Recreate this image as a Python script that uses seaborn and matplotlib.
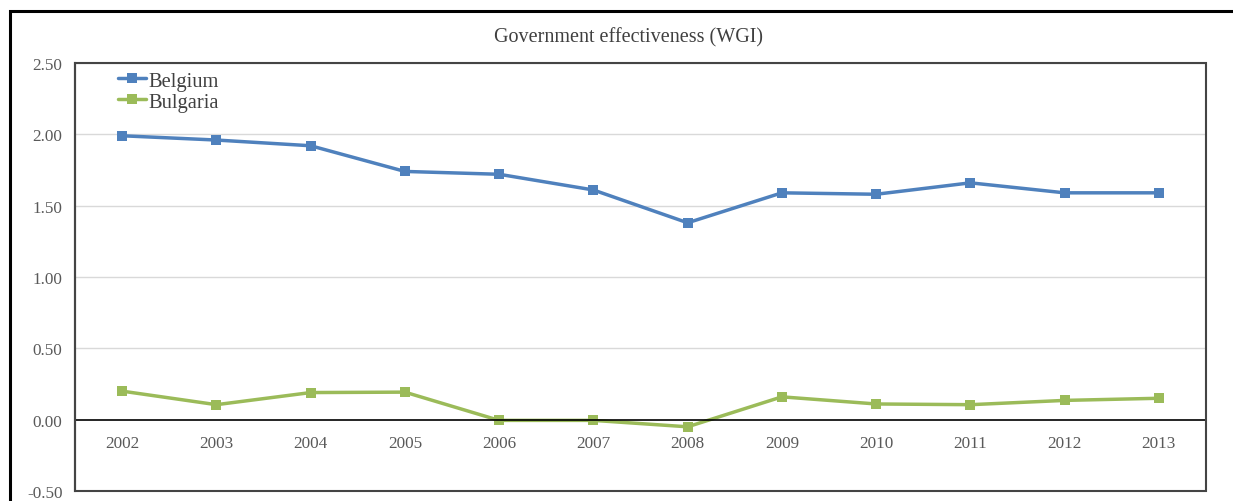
import matplotlib
matplotlib.use("Agg")
import matplotlib.pyplot as plt
from matplotlib.patches import Rectangle
import seaborn as sns
import pandas as pd

years = [2002, 2003, 2004, 2005, 2006, 2007, 2008, 2009, 2010, 2011, 2012, 2013]
belgium = [1.99, 1.96, 1.92, 1.74, 1.72, 1.61, 1.38, 1.59, 1.58, 1.66, 1.59, 1.59]
bulgaria = [0.20, 0.105, 0.19, 0.193, -0.005, -0.005, -0.05, 0.16, 0.11, 0.105, 0.135, 0.15]
yticks = [-0.5, 0.0, 0.5, 1.0, 1.5, 2.0, 2.5]
title = "Government effectiveness (WGI)"

df = pd.DataFrame({
    "year": years * 2,
    "value": belgium + bulgaria,
    "country": ["Belgium"] * len(years) + ["Bulgaria"] * len(years),
})

sns.set_theme(style="white")
plt.rcParams['font.family'] = ['Liberation Serif', 'DejaVu Serif']

fig = plt.figure(figsize=(12.33, 5.02), dpi=100)
ax = fig.add_axes([75/1233, 1 - 492/502, (1206 - 75)/1233, (492 - 64)/502])

sns.lineplot(data=df, x="year", y="value", hue="country",
             palette={"Belgium": "#4F81BD", "Bulgaria": "#9BBB59"},
             marker="s", markersize=7.5, markeredgewidth=0, linewidth=2.5,
             ax=ax)

ax.set_xlim(years[0] - 0.5, years[-1] + 0.5)
ax.set_ylim(-0.5, 2.5)
ax.set_yticks(yticks)
ax.set_yticklabels([f"{v:.2f}" for v in yticks])
ax.set_xticks(years)
ax.set_xticklabels([str(y) for y in years])
ax.set_xlabel("")
ax.set_ylabel("")

for y in yticks[2:]:
    ax.axhline(y, color="#D9D9D9", linewidth=1, zorder=0)

ax.spines['bottom'].set_position(('data', 0))
ax.spines['bottom'].set_color('black')
ax.spines['bottom'].set_linewidth(1.2)
ax.spines['top'].set_visible(False)
ax.spines['right'].set_visible(False)
ax.spines['left'].set_color('#222222')
ax.spines['left'].set_linewidth(1.5)
ax.add_patch(Rectangle((0, 0), 1, 1, transform=ax.transAxes, fill=False,
                       edgecolor='#444444', linewidth=1.5, clip_on=False, zorder=5))

ax.tick_params(axis='both', length=0, labelsize=12.3, labelcolor='#595959')
ax.tick_params(axis='x', pad=11)
ax.tick_params(axis='y', pad=9)

fig.text(628/1233, 1 - 38/502, title, ha='center', va='center',
         fontsize=14.5, color='#404040')

leg = ax.legend(loc='upper left', bbox_to_anchor=(0.031, 1.0), frameon=False,
                fontsize=14.8, handlelength=1.37, handletextpad=0.1,
                labelspacing=0.08, borderaxespad=0)
for t in leg.get_texts():
    t.set_color('#404040')

fig.patches.append(Rectangle((9.5/1233, -0.2), 1.5, 1 - 11.5/502 + 0.2,
                             transform=fig.transFigure, fill=False,
                             edgecolor='black', linewidth=2.2, clip_on=False))

fig.savefig("out.png", dpi=100)
